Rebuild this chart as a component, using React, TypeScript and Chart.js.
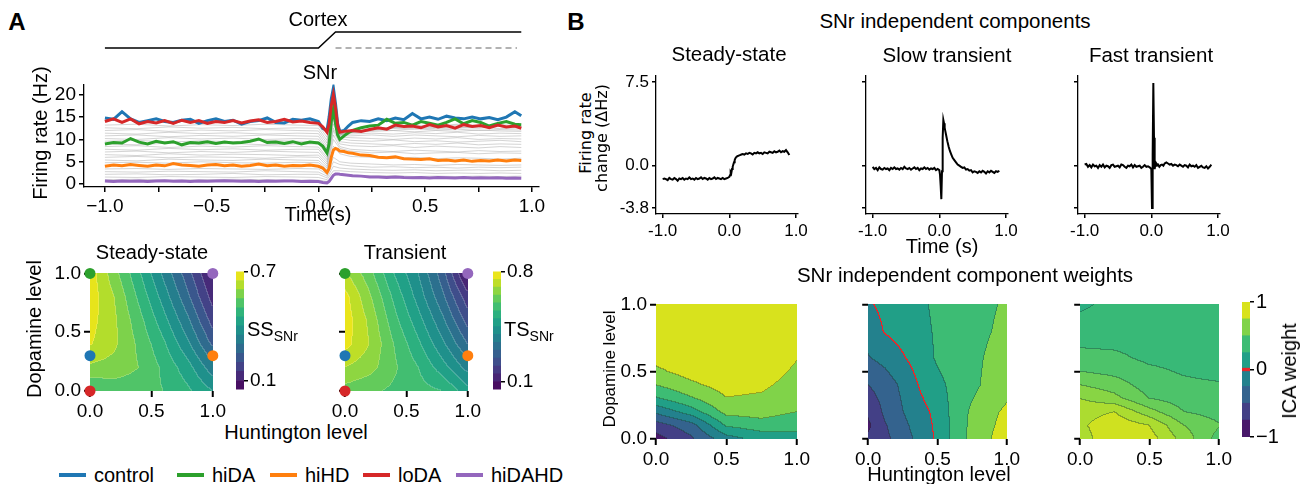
import React, { useEffect, useRef } from "react";
import { Chart, registerables } from "chart.js";

Chart.register(...registerables);

const FONT = "'Liberation Sans', Arial, Helvetica, sans-serif";
Chart.defaults.font.family = FONT;
Chart.defaults.color = "#000";

// ================= DATA =================
// Panel A (top): SNr firing rate per condition, time in s
const timeA = [-1.00,-0.96,-0.92,-0.88,-0.84,-0.80,-0.76,-0.72,-0.68,-0.64,-0.60,-0.56,-0.52,-0.48,-0.44,-0.40,-0.36,-0.32,-0.28,-0.24,-0.20,-0.16,-0.12,-0.08,-0.04,0.00,0.02,0.04,0.05,0.06,0.07,0.08,0.09,0.10,0.12,0.14,0.16,0.20,0.24,0.28,0.32,0.36,0.40,0.44,0.48,0.52,0.56,0.60,0.64,0.68,0.72,0.76,0.80,0.84,0.88,0.92,0.95];
const controlHz = [14.8,14.5,16.2,14.6,13.8,14.2,14.6,14.0,13.8,14.3,14.5,13.6,14.2,14.6,14.0,14.3,13.4,14.0,14.2,14.8,13.8,13.7,14.5,14.3,14.6,
  14.0,12.5,12.0,15.0,19.0,21.5,18.0,13.5,11.8,12.0,13.0,13.8,
  14.2,14.0,14.6,14.2,14.8,14.4,15.8,14.6,15.0,14.5,15.2,14.8,14.6,15.0,14.6,14.9,14.4,15.0,16.2,15.3];
const loDAHz = [14.0,14.6,13.8,14.6,13.5,14.0,13.7,14.2,13.6,14.3,13.8,14.2,13.6,14.0,13.8,14.2,13.7,14.1,14.4,13.8,14.0,14.5,13.9,14.1,13.8,
  13.6,12.8,11.6,13.5,17.5,20.0,17.0,13.0,11.6,11.8,11.9,12.0,
  11.8,12.2,12.6,12.3,13.2,12.9,13.0,12.6,13.3,12.8,13.1,12.5,13.3,12.9,13.1,12.6,13.2,12.8,13.0,12.5];
const hiDAHz = [9.0,9.3,9.2,10.2,9.4,9.0,9.6,9.2,9.5,8.8,9.3,9.2,9.5,9.1,9.4,9.2,9.3,9.6,10.1,9.3,9.4,9.1,9.5,9.0,9.4,
  9.2,8.5,7.0,9.0,14.0,16.8,13.5,11.0,10.0,10.8,11.5,12.0,
  12.6,13.0,13.2,14.5,13.6,13.8,13.2,14.0,13.6,13.2,13.8,14.6,13.5,14.2,13.8,13.0,13.6,14.0,13.4,13.3];
const hiHDHz = [4.0,4.3,4.1,4.4,4.2,4.0,4.3,4.1,4.6,4.3,4.2,4.0,4.3,4.4,4.1,4.3,4.0,4.2,4.5,4.1,4.3,4.0,4.2,4.1,4.3,
  4.0,3.6,2.6,3.5,6.0,7.6,8.0,7.8,7.4,7.3,7.0,6.9,
  6.5,6.4,6.0,5.9,6.1,5.7,5.6,5.5,5.7,5.3,5.4,5.2,5.4,5.1,5.3,5.2,5.4,5.2,5.4,5.3];
const hiDAHDHz = [0.7,0.6,0.7,0.65,0.7,0.6,0.7,0.75,0.65,0.7,0.6,0.7,0.65,0.7,0.75,0.7,0.65,0.7,0.6,0.7,0.65,0.7,0.7,0.6,0.65,
  0.6,0.4,0.3,0.6,1.3,2.0,2.3,2.3,2.2,2.1,2.0,1.9,
  1.8,1.6,1.6,1.5,1.6,1.5,1.45,1.5,1.4,1.5,1.45,1.4,1.5,1.4,1.45,1.4,1.45,1.35,1.4,1.35];

// other (grey) conditions, coarser time base
const timeGray = [-1.0,-0.85,-0.7,-0.55,-0.4,-0.25,-0.1,0,0.04,0.07,0.1,0.15,0.25,0.35,0.45,0.55,0.65,0.75,0.85,0.95];
const otherConditionsHz = [
  [1.0,1.1,0.9,1.0,1.1,1.0,0.9,0.9,0.6,2.0,2.2,2.0,1.8,1.9,1.7,1.8,1.7,1.8,1.7,1.8],
  [1.6,1.5,1.7,1.6,1.5,1.7,1.6,1.5,1.0,3.0,3.0,2.8,2.6,2.5,2.6,2.4,2.5,2.4,2.5,2.4],
  [2.2,2.3,2.1,2.2,2.4,2.1,2.2,2.2,1.4,4.0,3.6,3.4,3.2,3.1,3.2,3.0,3.1,3.2,3.0,3.1],
  [2.8,2.7,2.9,2.8,2.7,3.0,2.8,2.7,1.8,5.0,4.4,4.1,3.8,3.9,3.7,3.8,3.6,3.8,3.7,3.8],
  [3.4,3.5,3.3,3.5,3.4,3.3,3.5,3.4,2.2,6.0,5.0,4.7,4.5,4.3,4.4,4.2,4.4,4.3,4.2,4.3],
  [4.8,4.9,4.7,5.0,4.8,4.7,4.9,4.8,3.2,8.5,6.8,6.2,6.0,5.8,6.0,5.7,5.9,5.8,5.6,5.8],
  [5.4,5.2,5.6,5.4,5.3,5.6,5.4,5.3,3.6,10.0,8.0,7.4,7.0,7.2,6.8,7.0,7.1,6.8,7.0,6.9],
  [6.0,6.2,5.9,6.1,6.0,5.8,6.1,6.0,4.0,11.0,8.4,7.8,7.5,7.3,7.6,7.4,7.2,7.5,7.3,7.4],
  [6.6,6.4,6.8,6.5,6.7,6.6,6.4,6.5,4.5,12.0,9.0,8.6,8.4,8.6,8.2,8.5,8.3,8.1,8.4,8.2],
  [7.2,7.4,7.0,7.3,7.1,7.4,7.2,7.1,5.0,12.5,9.5,9.2,9.0,8.8,9.1,8.9,9.2,8.8,9.0,8.9],
  [7.8,7.6,8.0,7.7,7.9,7.6,7.8,7.8,5.5,13.5,10.2,9.8,9.6,9.9,9.5,9.7,9.4,9.6,9.8,9.5],
  [8.4,8.6,8.2,8.5,8.3,8.6,8.4,8.3,6.0,14.5,10.5,10.4,10.2,10.0,10.3,10.1,10.4,10.0,10.2,10.1],
  [9.0,8.8,9.2,8.9,9.1,8.8,9.0,9.0,6.6,15.0,10.8,10.8,11.0,10.7,11.0,10.8,10.6,10.9,10.7,10.8],
  [9.6,9.8,9.4,9.7,9.5,9.8,9.6,9.5,7.0,15.5,11.0,11.2,11.4,11.2,11.5,11.3,11.6,11.2,11.4,11.3],
  [10.2,10.0,10.4,10.1,10.3,10.0,10.2,10.1,7.6,16.0,11.2,11.6,11.8,12.0,11.7,12.0,11.8,12.1,11.9,11.8],
  [10.8,11.0,10.6,10.9,10.7,11.0,10.8,10.7,8.0,16.5,11.3,11.8,12.2,12.0,12.4,12.1,12.3,12.0,12.2,12.1],
  [11.4,11.2,11.6,11.3,11.5,11.2,11.4,11.3,8.6,17.0,11.2,11.8,12.4,12.6,12.3,12.7,12.5,12.8,12.4,12.6],
  [12.0,12.2,11.8,12.1,11.9,12.2,12.0,11.9,9.2,17.5,11.0,11.6,12.2,12.5,12.8,12.4,12.7,12.5,12.9,12.6],
  [12.6,12.4,12.8,12.5,12.7,12.4,12.6,12.5,9.8,18.0,11.0,11.5,12.0,12.6,13.0,12.8,13.2,12.9,13.1,12.8],
  [13.2,13.4,13.0,13.3,13.1,13.4,13.2,13.1,10.5,18.5,11.2,11.5,12.2,12.8,13.2,13.0,13.4,13.1,13.3,13.0],
];

// Cortex input trace
const cortexTime = [-1.0, 0.0, 0.08, 0.95];
const cortexDrive = [0, 0, 1, 1];
const cortexBaseTime = [0.08, 0.93];
const cortexBase = [0, 0];

const timeTicksA = [-1, -0.75, -0.5, -0.25, 0, 0.25, 0.5, 0.75, 1];
const rateTicks = [0, 5, 10, 15, 20];

// Panel A (bottom): steady-state / transient maps (rows: dopamine, cols: huntington)
const mapHuntington = [0, 0.2, 0.4, 0.6, 0.8, 1.0];
const mapDopamine = [0, 0.2, 0.4, 0.6, 0.8, 1.0];
const ssSNr = [
  [0.50, 0.52, 0.52, 0.50, 0.46, 0.40],
  [0.59, 0.58, 0.55, 0.49, 0.42, 0.32],
  [0.655, 0.61, 0.54, 0.46, 0.36, 0.24],
  [0.67, 0.61, 0.52, 0.42, 0.31, 0.18],
  [0.68, 0.60, 0.49, 0.38, 0.26, 0.13],
  [0.68, 0.57, 0.46, 0.34, 0.22, 0.09],
];
const tsSNr = [
  [0.63, 0.61, 0.59, 0.57, 0.55, 0.47],
  [0.70, 0.67, 0.61, 0.55, 0.47, 0.38],
  [0.77, 0.70, 0.60, 0.51, 0.41, 0.30],
  [0.78, 0.69, 0.57, 0.47, 0.36, 0.23],
  [0.77, 0.66, 0.54, 0.43, 0.31, 0.17],
  [0.71, 0.62, 0.50, 0.40, 0.27, 0.08],
];
const ssLevels = [0.05,0.10,0.15,0.20,0.25,0.30,0.35,0.40,0.45,0.50,0.55,0.60,0.65,0.70];
const tsLevels = [0.05,0.10,0.15,0.20,0.25,0.30,0.35,0.40,0.45,0.50,0.55,0.60,0.65,0.70,0.75,0.80];
const ssTicks = [0.1, 0.7];
const tsTicks = [0.1, 0.8];
const levelTicks = [0, 0.5, 1];

// condition markers on maps
const markerHuntington = [0, 1, 0, 1, 0];
const markerDopamine = [1, 1, 0.3, 0.3, 0];
const conditionNames = ["control", "hiDA", "hiHD", "loDA", "hiDAHD"];
const BLUE = "#1f77b4", GREEN = "#2ca02c", ORANGE = "#ff7f0e", RED = "#d62728", PURPLE = "#9467bd";
const markerColors = [GREEN, PURPLE, BLUE, ORANGE, RED];
const conditionColors = [BLUE, GREEN, ORANGE, RED, PURPLE];

// Panel B (top): independent components
const timeB = [-1.000,-0.975,-0.950,-0.925,-0.900,-0.875,-0.850,-0.825,-0.800,-0.775,
  -0.750,-0.725,-0.700,-0.675,-0.650,-0.625,-0.600,-0.575,-0.550,-0.525,
  -0.500,-0.475,-0.450,-0.425,-0.400,-0.375,-0.350,-0.325,-0.300,-0.275,
  -0.250,-0.225,-0.200,-0.175,-0.150,-0.125,-0.100,-0.075,-0.050,-0.025,
  0.000,0.010,0.020,0.030,0.040,0.050,0.060,0.070,0.080,0.090,
  0.100,0.120,0.140,0.160,0.180,0.200,
  0.225,0.250,0.275,0.300,0.325,0.350,0.375,0.400,0.425,0.450,
  0.475,0.500,0.525,0.550,0.575,0.600,0.625,0.650,0.675,0.700,
  0.725,0.750,0.775,0.800,0.825,0.850,0.875,0.900];
const steadyIC = [-1.2,-1.15,-1.2,-1.3,-1.1,-1.2,-1.25,-1.1,-1.2,-1.35,-1.15,-1.2,-1.1,-1.25,-1.15,-1.2,-1.05,-1.2,-1.15,-1.25,
  -1.1,-1.2,-1.15,-1.05,-1.2,-1.1,-1.15,-1.25,-1.1,-1.2,-1.15,-1.05,-1.2,-1.1,-1.15,-1.2,-1.1,-1.2,-1.15,-1.1,
  -1.0,-0.85,-0.55,-0.65,-0.3,-0.1,0.1,0.3,0.5,0.65,0.75,0.85,0.9,0.95,1.0,1.05,
  1.0,1.1,1.05,1.15,1.1,1.0,1.15,1.1,1.2,1.1,1.15,1.05,1.2,1.15,1.1,1.25,1.2,1.15,1.3,1.2,1.25,1.35,1.2,1.3,1.25,1.4,1.2,0.95];
const slowIC = [-0.1,-0.3,-0.2,-0.4,-0.15,-0.3,-0.35,-0.2,-0.3,-0.25,-0.4,-0.2,-0.3,-0.15,-0.3,-0.25,-0.35,-0.2,-0.3,-0.1,
  -0.25,-0.3,-0.2,-0.35,-0.25,-0.15,-0.3,-0.2,-0.4,-0.25,-0.3,-0.15,-0.3,-0.2,-0.35,-0.25,-0.3,-0.2,-0.4,-0.3,
  -0.4,-0.8,-1.8,-3.0,-0.5,2.5,4.1,3.8,3.4,3.1,2.8,2.2,1.7,1.3,1.0,0.7,
  0.5,0.3,0.1,0.0,-0.1,-0.2,-0.15,-0.35,-0.3,-0.45,-0.4,-0.6,-0.5,-0.55,-0.65,-0.5,-0.6,-0.45,-0.55,-0.7,-0.5,-0.6,-0.45,-0.55,-0.65,-0.5,-0.55,-0.45];
const fastIC = [0.1,0.15,-0.1,0.05,-0.15,0.1,-0.05,0.0,-0.2,0.05,-0.1,0.1,-0.15,0.0,-0.05,-0.2,0.05,0.1,-0.1,-0.05,
  0.0,-0.15,0.1,0.05,-0.1,-0.2,0.0,-0.05,0.1,-0.15,0.05,-0.1,-0.05,0.0,-0.2,-0.1,0.05,-0.1,-0.05,-0.15,
  -0.3,-3.8,1.0,7.4,2.5,-0.3,0.1,0.0,0.15,0.05,0.1,-0.1,0.05,0.1,0.0,0.2,
  0.3,0.2,0.1,0.15,0.0,0.1,0.05,-0.05,0.1,0.0,-0.1,0.05,0.0,-0.15,0.1,-0.05,0.0,-0.1,0.05,-0.2,-0.1,0.0,-0.15,-0.2,-0.05,-0.25,-0.1,0.1];
const icTimeTicks = [-1, 0, 1];
const icRateTicks = [-3.8, 0, 7.5];

// Panel B (bottom): component weights (rows: dopamine, cols: huntington)
const wH5 = [0, 0.25, 0.5, 0.75, 1.0];
const wD9 = [0, 0.1, 0.2, 0.3, 0.4, 0.5, 0.6, 0.8, 1.0];
const steadyWeight = [
  [-0.85, -0.55, -0.1, 0.08, 0.15],
  [-0.62, -0.35, 0.28, 0.4, 0.33],
  [-0.2, 0.12, 0.58, 0.6, 0.5],
  [0.22, 0.47, 0.74, 0.71, 0.58],
  [0.5, 0.7, 0.85, 0.8, 0.65],
  [0.7, 0.85, 0.92, 0.87, 0.71],
  [0.82, 0.92, 0.96, 0.92, 0.76],
  [0.95, 0.98, 1.0, 0.98, 0.88],
  [1.0, 1.0, 1.0, 1.0, 0.95],
];
const wH9 = [0, 0.125, 0.25, 0.375, 0.5, 0.625, 0.75, 0.875, 1.0];
const wD7 = [0, 0.1, 0.2, 0.4, 0.6, 0.8, 1.0];
const slowWeight = [
  [-0.7, -0.56, -0.37, -0.17, 0.04, 0.32, 0.58, 0.73, 0.9],
  [-0.8, -0.52, -0.32, -0.13, 0.05, 0.33, 0.56, 0.7, 0.85],
  [-0.72, -0.45, -0.26, -0.08, 0.06, 0.34, 0.54, 0.68, 0.8],
  [-0.5, -0.38, -0.2, 0.02, 0.18, 0.32, 0.44, 0.56, 0.65],
  [-0.27, -0.17, -0.03, 0.12, 0.28, 0.38, 0.44, 0.53, 0.6],
  [-0.15, 0.02, 0.1, 0.18, 0.28, 0.36, 0.42, 0.49, 0.56],
  [-0.03, 0.06, 0.12, 0.2, 0.3, 0.37, 0.42, 0.47, 0.53],
];
const fastWeight = [
  [0.75, 0.88, 0.85, 0.66, 0.46],
  [0.78, 0.87, 0.8, 0.6, 0.51],
  [0.76, 0.8, 0.64, 0.5, 0.46],
  [0.7, 0.63, 0.5, 0.45, 0.43],
  [0.6, 0.55, 0.45, 0.42, 0.41],
  [0.5, 0.47, 0.42, 0.39, 0.37],
  [0.43, 0.42, 0.38, 0.37, 0.34],
  [0.35, 0.35, 0.36, 0.36, 0.33],
  [0.28, 0.33, 0.34, 0.34, 0.32],
];
const icaLevels = [-1, -0.75, -0.5, -0.25, 0, 0.25, 0.5, 0.75, 1];
const fastLevels = [0.2, 0.3, 0.4, 0.5, 0.6, 0.7, 0.8, 0.9];
const icaTicks = [-1, 0, 1];

// ================= HELPERS =================
function viridis(t: number): number[] {
  const c0 = [0.2777273272234177, 0.005407344544966578, 0.3340998053353061];
  const c1 = [0.1050930431085774, 1.404613529898575, 1.384590162594685];
  const c2 = [-0.3308618287255563, 0.214847559468213, 0.09509516302823659];
  const c3 = [-4.634230498983486, -5.799100973351585, -19.33244095627987];
  const c4 = [6.228269936347081, 14.17993336680509, 56.69055260068105];
  const c5 = [4.776384997670288, -13.74514537774601, -65.35303263337234];
  const c6 = [-5.435455855934631, 4.645852612178535, 26.3124352495832];
  return [0, 1, 2].map((i) => {
    const v = c0[i] + t * (c1[i] + t * (c2[i] + t * (c3[i] + t * (c4[i] + t * (c5[i] + t * c6[i])))));
    return Math.round(Math.max(0, Math.min(1, v)) * 255);
  });
}
const bandColors = (levels: number[], vmin?: number, vmax?: number) => {
  const lo = vmin ?? levels[0], hi = vmax ?? levels[levels.length - 1];
  return Array.from({ length: levels.length - 1 }, (_, k) => viridis(((levels[k] + levels[k + 1]) / 2 - lo) / (hi - lo)));
};
const css = (c: number[]) => `rgb(${c[0]},${c[1]},${c[2]})`;

function interp(gx: number[], gy: number[], z: number[][], x: number, y: number) {
  let i = 0;
  while (i < gx.length - 2 && x > gx[i + 1]) i++;
  let j = 0;
  while (j < gy.length - 2 && y > gy[j + 1]) j++;
  const tx = Math.max(0, Math.min(1, (x - gx[i]) / (gx[i + 1] - gx[i])));
  const ty = Math.max(0, Math.min(1, (y - gy[j]) / (gy[j + 1] - gy[j])));
  return z[j][i] * (1 - tx) * (1 - ty) + z[j][i + 1] * tx * (1 - ty) + z[j + 1][i] * (1 - tx) * ty + z[j + 1][i + 1] * tx * ty;
}

type Grid = { gx: number[]; gy: number[]; z: number[][]; levels: number[]; edge: number[]; zero?: boolean; vmin?: number; vmax?: number };
function contourPlugin(g: Grid) {
  return {
    id: "contourFill",
    beforeDatasetsDraw(chart: any) {
      const { left, top, right, bottom } = chart.chartArea;
      const L = Math.round(left), T = Math.round(top);
      const W = Math.round(right) - L, H = Math.round(bottom) - T;
      const sx = chart.scales.x, sy = chart.scales.y;
      const n = g.levels.length - 1;
      const cols = bandColors(g.levels, g.vmin, g.vmax);
      const band = new Int16Array(W * H);
      for (let j = 0; j < H; j++) {
        const yv = sy.getValueForPixel(T + j + 0.5);
        for (let i = 0; i < W; i++) {
          const xv = sx.getValueForPixel(L + i + 0.5);
          const v = interp(g.gx, g.gy, g.z, xv, yv);
          let k = 0;
          while (k < n - 1 && v >= g.levels[k + 1]) k++;
          band[j * W + i] = k;
        }
      }
      const img = chart.ctx.createImageData(W, H);
      for (let j = 0; j < H; j++) {
        for (let i = 0; i < W; i++) {
          const p = j * W + i;
          const k = band[p];
          let [r, gg, b] = cols[k];
          const kr = i < W - 1 ? band[p + 1] : k;
          const kb = j < H - 1 ? band[p + W] : k;
          if (kr !== k || kb !== k) {
            const other = kr !== k ? kr : kb;
            const lvl = g.levels[Math.max(k, other)];
            if (g.zero && Math.abs(lvl) < 1e-9) {
              r = 232; gg = 38; b = 42;
            } else {
              const a = g.edge[3];
              r = r * (1 - a) + g.edge[0] * a;
              gg = gg * (1 - a) + g.edge[1] * a;
              b = b * (1 - a) + g.edge[2] * a;
            }
          }
          img.data[p * 4] = r;
          img.data[p * 4 + 1] = gg;
          img.data[p * 4 + 2] = b;
          img.data[p * 4 + 3] = 255;
        }
      }
      chart.ctx.putImageData(img, L, T);
    },
  };
}

type Box = { l: number; t: number; r: number; b: number };
type Frame = { box: Box; ml: number; mt: number; mr: number; mb: number };

function baseOptions(pad: { left: number; top: number; right: number; bottom: number }) {
  return {
    responsive: false,
    maintainAspectRatio: false,
    animation: false,
    devicePixelRatio: 1,
    events: [],
    layout: { padding: pad },
    plugins: { legend: { display: false }, tooltip: { enabled: false } },
  };
}

function axis(o: {
  min: number; max: number; ticks: number[]; label: (v: number) => string; size: number; fit: number;
  horizontal: boolean; position?: string; border?: boolean; tickLen?: number; z?: number; pad?: number; tickWidth?: number;
}) {
  return {
    type: "linear",
    position: o.position ?? (o.horizontal ? "bottom" : "left"),
    min: o.min,
    max: o.max,
    afterBuildTicks: (s: any) => { s.ticks = o.ticks.map((v) => ({ value: v })); },
    afterFit: (s: any) => { if (o.horizontal) s.height = o.fit; else s.width = o.fit; },
    ticks: {
      autoSkip: false, maxRotation: 0, minRotation: 0, padding: o.pad ?? 3, color: "#000",
      font: { size: o.size, family: FONT },
      callback: (v: any) => o.label(Number(v)),
    },
    grid: { display: true, drawOnChartArea: false, drawTicks: true, tickLength: o.tickLen ?? 5, tickWidth: o.tickWidth ?? 1.5, tickColor: "#000", color: "#000", lineWidth: 1.5 },
    border: { display: o.border ?? true, color: "#000", width: 1.3 },
    z: o.z ?? 0,
  };
}
const hidden = (min: number, max: number) => ({ type: "linear", display: false, min, max });

const minusFmt = (v: number) => (v < -1e-9 ? "\u2212" : "") + Math.abs(v).toFixed(1);
const halfFmt = (v: number) => (Math.abs(v * 2 - Math.round(v * 2)) < 1e-6 ? minusFmt(v) : "");
const plainFmt = (v: number) => v.toFixed(1);
const noLabel = () => "";

const lineDs = (vals: number[], times: number[], color: string, width: number) => ({
  data: times.map((t, i) => ({ x: t, y: vals[i] })),
  borderColor: color,
  borderWidth: width,
  pointRadius: 0,
  fill: false,
  tension: 0,
});

function ChartBox({ frame, build }: { frame: Frame; build: (f: Frame) => any }) {
  const ref = useRef<HTMLCanvasElement | null>(null);
  const { box, ml, mt, mr, mb } = frame;
  const x = box.l - ml, y = box.t - mt;
  const w = box.r - box.l + ml + mr, h = box.b - box.t + mt + mb;
  useEffect(() => {
    const chart = new Chart(ref.current as HTMLCanvasElement, build(frame));
    return () => chart.destroy();
  }, []);
  return <canvas ref={ref} width={w} height={h} style={{ position: "absolute", left: x, top: y, width: w, height: h }} />;
}

// ================= CHART BUILDERS =================
const rateFrame: Frame = { box: { l: 84, t: 78, r: 539, b: 187 }, ml: 64, mt: 8, mr: 20, mb: 30 };
const buildRates = (f: Frame) => ({
  type: "line",
  data: {
    datasets: [
      lineDs(hiDAHDHz, timeA, PURPLE, 3),
      lineDs(loDAHz, timeA, RED, 3),
      lineDs(hiHDHz, timeA, ORANGE, 3),
      lineDs(hiDAHz, timeA, GREEN, 3),
      lineDs(controlHz, timeA, BLUE, 3),
      ...otherConditionsHz.map((g) => lineDs(g, timeGray, "rgba(170,170,170,0.5)", 1)),
    ],
  },
  options: {
    ...baseOptions({ left: 0, top: f.mt, right: f.mr, bottom: 0 }),
    scales: {
      x: axis({ min: -1.098, max: 1.033, ticks: timeTicksA, label: halfFmt, size: 19, fit: f.mb, horizontal: true }),
      y: axis({ min: -0.63, max: 22.3, ticks: rateTicks, label: (v) => String(v), size: 19, fit: f.ml, horizontal: false }),
    },
  },
});

const cortexFrame: Frame = { box: { l: 84, t: 28, r: 539, b: 52 }, ml: 0, mt: 0, mr: 0, mb: 0 };
const buildCortex = (f: Frame) => ({
  type: "line",
  data: {
    datasets: [
      lineDs(cortexDrive, cortexTime, "#000", 1.5),
      { ...lineDs(cortexBase, cortexBaseTime, "#999", 1.5), borderDash: [6, 4] },
    ],
  },
  options: {
    ...baseOptions({ left: 0, top: 0, right: 0, bottom: 0 }),
    scales: { x: hidden(-1.098, 1.033), y: hidden(-0.25, 1.25) },
  },
});

const markerDataset = () => ({
  data: markerHuntington.map((h, i) => ({ x: h, y: markerDopamine[i] })),
  pointBackgroundColor: markerColors,
  pointBorderWidth: 0,
  pointRadius: 5.5,
  showLine: false,
  clip: false,
});

function buildMap(grid: Grid, yLabels: boolean, markers: boolean, size: number, edgeTicks: number) {
  return (f: Frame) => ({
    type: "scatter",
    data: { datasets: markers ? [markerDataset()] : [] },
    options: {
      ...baseOptions({ left: 0, top: f.mt, right: f.mr, bottom: 0 }),
      scales: {
        x: axis({ min: 0, max: 1, ticks: levelTicks, label: plainFmt, size, fit: f.mb, horizontal: true, border: false, tickLen: edgeTicks, z: 1, tickWidth: 2 }),
        y: axis({ min: 0, max: 1, ticks: levelTicks, label: yLabels ? plainFmt : noLabel, size, fit: f.ml, horizontal: false, border: false, tickLen: edgeTicks, z: 1, tickWidth: 2 }),
      },
    },
    plugins: [contourPlugin(grid)],
  });
}

function buildColorbar(levels: number[], ticks: number[], fmt: (v: number) => string, size: number, zeroMark: boolean) {
  return (f: Frame) => {
    const cols = bandColors(levels);
    const bands = cols.map((c, k) => ({
      data: [[levels[k], levels[k + 1]]],
      backgroundColor: css(c),
      borderWidth: 0,
      barPercentage: 1,
      categoryPercentage: 1,
      grouped: false,
    }));
    const zero = zeroMark ? [{ data: [[-0.02, 0.02]], backgroundColor: "#e8262a", borderWidth: 0, barPercentage: 1, categoryPercentage: 1, grouped: false }] : [];
    return {
      type: "bar",
      data: { labels: [""], datasets: [...zero, ...bands] },
      options: {
        ...baseOptions({ left: 0, top: f.mt, right: 0, bottom: f.mb }),
        scales: {
          x: { type: "category", display: false },
          y: axis({ min: levels[0], max: levels[levels.length - 1], ticks, label: fmt, size, fit: f.mr, horizontal: false, position: "right", border: false, tickLen: 4, pad: 2 }),
        },
      },
    };
  };
}

function buildIC(values: number[], yLabels: boolean) {
  return (f: Frame) => ({
    type: "line",
    data: { datasets: [lineDs(values, timeB, "#000", 2)] },
    options: {
      ...baseOptions({ left: 0, top: f.mt, right: f.mr, bottom: 0 }),
      scales: {
        x: axis({ min: -1.1, max: 1.03, ticks: icTimeTicks, label: plainFmt, size: 17, fit: f.mb, horizontal: true, tickLen: 4 }),
        y: axis({ min: -4.33, max: 8.11, ticks: icRateTicks, label: yLabels ? plainFmt : noLabel, size: 17, fit: f.ml, horizontal: false, tickLen: 4 }),
      },
    },
  });
}

// frames
const ssFrame: Frame = { box: { l: 90, t: 269, r: 213, b: 391 }, ml: 60, mt: 10, mr: 16, mb: 30 };
const tsFrame: Frame = { box: { l: 345, t: 269, r: 468, b: 391 }, ml: 20, mt: 10, mr: 16, mb: 30 };
const ssCbFrame: Frame = { box: { l: 236, t: 270, r: 244, b: 391 }, ml: 0, mt: 12, mr: 40, mb: 12 };
const tsCbFrame: Frame = { box: { l: 493, t: 270, r: 501, b: 391 }, ml: 0, mt: 12, mr: 40, mb: 12 };
const ic1Frame: Frame = { box: { l: 656, t: 72, r: 798, b: 214 }, ml: 50, mt: 10, mr: 16, mb: 30 };
const ic2Frame: Frame = { box: { l: 866, t: 72, r: 1008, b: 214 }, ml: 12, mt: 10, mr: 16, mb: 30 };
const ic3Frame: Frame = { box: { l: 1078, t: 72, r: 1220, b: 214 }, ml: 12, mt: 10, mr: 16, mb: 30 };
const w1Frame: Frame = { box: { l: 656, t: 300, r: 797, b: 439 }, ml: 50, mt: 10, mr: 16, mb: 30 };
const w2Frame: Frame = { box: { l: 866, t: 300, r: 1007, b: 439 }, ml: 14, mt: 10, mr: 16, mb: 30 };
const w3Frame: Frame = { box: { l: 1078, t: 300, r: 1219, b: 439 }, ml: 14, mt: 10, mr: 16, mb: 30 };
const icaCbFrame: Frame = { box: { l: 1242, t: 300, r: 1250, b: 439 }, ml: 0, mt: 12, mr: 30, mb: 12 };

const edgeA = [255, 255, 255, 0.18];
const edgeB = [30, 50, 40, 0.35];

// ================= TEXT =================
const Txt = ({ cx, cy, size, children, rot, bold, family }: any) => (
  <div
    style={{
      position: "absolute", left: cx, top: cy,
      transform: `translate(-50%,-50%)${rot ? " rotate(-90deg)" : ""}`,
      fontSize: size, fontWeight: bold ? 700 : 400, fontFamily: family ?? FONT,
      whiteSpace: "nowrap", lineHeight: 1, color: "#000",
    }}
  >
    {children}
  </div>
);
const LeftTxt = ({ x, cy, size, children }: any) => (
  <div style={{ position: "absolute", left: x, top: cy, transform: "translateY(-50%)", fontSize: size, fontFamily: FONT, whiteSpace: "nowrap", lineHeight: 1 }}>
    {children}
  </div>
);

const legendLeft = [59, 177, 270, 363, 456];

export default function App() {
  return (
    <div style={{ position: "absolute", left: 0, top: 0, width: 1306, height: 484, background: "#fff", overflow: "hidden", fontFamily: FONT }}>
      <ChartBox frame={cortexFrame} build={buildCortex} />
      <ChartBox frame={rateFrame} build={buildRates} />
      <ChartBox frame={ssFrame} build={buildMap({ gx: mapHuntington, gy: mapDopamine, z: ssSNr, levels: ssLevels, edge: edgeA }, true, true, 19, 6)} />
      <ChartBox frame={tsFrame} build={buildMap({ gx: mapHuntington, gy: mapDopamine, z: tsSNr, levels: tsLevels, edge: edgeA }, false, true, 19, 6)} />
      <ChartBox frame={ssCbFrame} build={buildColorbar(ssLevels, ssTicks, plainFmt, 19, false)} />
      <ChartBox frame={tsCbFrame} build={buildColorbar(tsLevels, tsTicks, plainFmt, 19, false)} />
      <ChartBox frame={ic1Frame} build={buildIC(steadyIC, true)} />
      <ChartBox frame={ic2Frame} build={buildIC(slowIC, false)} />
      <ChartBox frame={ic3Frame} build={buildIC(fastIC, false)} />
      <ChartBox frame={w1Frame} build={buildMap({ gx: wH5, gy: wD9, z: steadyWeight, levels: icaLevels, edge: edgeB }, true, false, 19, 6)} />
      <ChartBox frame={w2Frame} build={buildMap({ gx: wH9, gy: wD7, z: slowWeight, levels: icaLevels, edge: edgeB, zero: true }, false, false, 19, 6)} />
      <ChartBox frame={w3Frame} build={buildMap({ gx: wH5, gy: wD9, z: fastWeight, levels: fastLevels, edge: edgeB, vmin: -1, vmax: 1 }, false, false, 19, 6)} />
      <ChartBox frame={icaCbFrame} build={buildColorbar(icaLevels, icaTicks, (v) => (v < 0 ? "\u22121" : String(v)), 20, true)} />

      {/* Panel A text */}
      <Txt cx={17} cy={22} size={24} bold>A</Txt>
      <Txt cx={318} cy={19} size={20}>Cortex</Txt>
      <Txt cx={320} cy={72} size={20}>SNr</Txt>
      <Txt cx={40} cy={133} size={20} rot>Firing rate (Hz)</Txt>
      <Txt cx={318} cy={214} size={20}>Time(s)</Txt>
      <Txt cx={152} cy={252} size={20}>Steady-state</Txt>
      <Txt cx={405} cy={252} size={20}>Transient</Txt>
      <Txt cx={34} cy={329} size={20} rot>Dopamine level</Txt>
      <Txt cx={296} cy={432} size={20}>Huntington level</Txt>
      <LeftTxt x={247} cy={331} size={20}>SS<sub style={{ fontSize: 14 }}>SNr</sub></LeftTxt>
      <LeftTxt x={504} cy={331} size={20}>TS<sub style={{ fontSize: 14 }}>SNr</sub></LeftTxt>
      {conditionNames.map((name, i) => (
        <div key={name} style={{ position: "absolute", left: legendLeft[i], top: 475, transform: "translateY(-50%)", display: "flex", alignItems: "center", whiteSpace: "nowrap" }}>
          <div style={{ width: 27, height: 4, background: conditionColors[i], marginRight: 8 }} />
          <span style={{ fontSize: 20, lineHeight: 1 }}>{name}</span>
        </div>
      ))}

      {/* Panel B text */}
      <Txt cx={576} cy={22} size={24} bold>B</Txt>
      <Txt cx={955} cy={21} size={20.5}>SNr independent components</Txt>
      <Txt cx={729} cy={54} size={20.5}>Steady-state</Txt>
      <Txt cx={947} cy={55} size={20.5}>Slow transient</Txt>
      <Txt cx={1151} cy={55} size={20.5}>Fast transient</Txt>
      <Txt cx={586} cy={133} size={16} rot family="'DejaVu Sans', sans-serif">Firing rate</Txt>
      <Txt cx={602} cy={138} size={16} rot family="'DejaVu Sans', sans-serif">change (ΔHz)</Txt>
      <Txt cx={942} cy={246} size={20}>Time (s)</Txt>
      <Txt cx={965} cy={275} size={20.5}>SNr independent component weights</Txt>
      <Txt cx={609} cy={369} size={17} rot>Dopamine level</Txt>
      <Txt cx={939} cy={474} size={20}>Huntington level</Txt>
      <Txt cx={1289} cy={371} size={20} rot>ICA weight</Txt>
    </div>
  );
}
